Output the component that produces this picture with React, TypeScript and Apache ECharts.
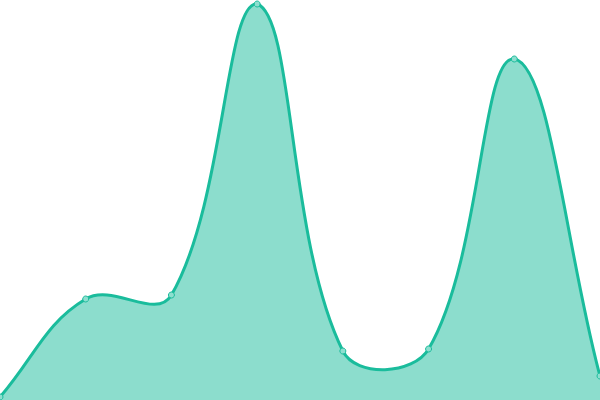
import React, { useEffect, useRef } from 'react';
import * as echarts from 'echarts';

const categories = ['Mon', 'Tue', 'Wed', 'Thu', 'Fri', 'Sat', 'Sun', 'Next'];
const values = [3, 101, 105, 396, 49, 51, 341, 24];

const LINE_COLOR = '#1abc9c';
const AREA_COLOR = 'rgba(26, 188, 156, 0.5)';
const POINT_FILL = '#8ddfcf';
const TENSION = 0.4;

type Pt = { x: number; y: number };

// control points of a cardinal-like spline, weighted by segment lengths
function splineCurve(prev: Pt, cur: Pt, next: Pt, t: number) {
  const d01 = Math.hypot(cur.x - prev.x, cur.y - prev.y);
  const d12 = Math.hypot(next.x - cur.x, next.y - cur.y);
  let s01 = d01 / (d01 + d12);
  let s12 = d12 / (d01 + d12);
  s01 = isNaN(s01) ? 0 : s01;
  s12 = isNaN(s12) ? 0 : s12;
  const fa = t * s01;
  const fb = t * s12;
  return {
    prev: { x: cur.x - fa * (next.x - prev.x), y: cur.y - fa * (next.y - prev.y) },
    next: { x: cur.x + fb * (next.x - prev.x), y: cur.y + fb * (next.y - prev.y) }
  };
}

const clamp = (v: number, lo: number, hi: number) => Math.max(lo, Math.min(hi, v));

const App: React.FC = () => {
  const chartRef = useRef<HTMLDivElement>(null);

  useEffect(() => {
    if (!chartRef.current) return;
    const chart = echarts.init(chartRef.current, undefined, { renderer: 'svg' });

    const renderCurve = (params: any, api: any) => {
      if (params.dataIndex !== 0) return null;
      const cs = params.coordSys;
      const pts: Pt[] = values.map((v, i) => {
        const c = api.coord([i, v]);
        return { x: c[0], y: c[1] };
      });
      const n = pts.length;
      const cps = pts.map((p, i) => {
        const cp = splineCurve(pts[Math.max(i - 1, 0)], p, pts[Math.min(i + 1, n - 1)], TENSION);
        const left = cs.x, right = cs.x + cs.width, top = cs.y, bottom = cs.y + cs.height;
        cp.prev = { x: clamp(cp.prev.x, left, right), y: clamp(cp.prev.y, top, bottom) };
        cp.next = { x: clamp(cp.next.x, left, right), y: clamp(cp.next.y, top, bottom) };
        return cp;
      });
      let d = `M${pts[0].x},${pts[0].y}`;
      for (let i = 1; i < n; i++) {
        const a = cps[i - 1].next;
        const b = cps[i].prev;
        d += ` C${a.x},${a.y} ${b.x},${b.y} ${pts[i].x},${pts[i].y}`;
      }
      const base = cs.y + cs.height;
      const area = `${d} L${pts[n - 1].x},${base} L${pts[0].x},${base} Z`;
      return {
        type: 'group',
        children: [
          { type: 'path', shape: { pathData: area }, style: { fill: AREA_COLOR, stroke: 'none' } },
          {
            type: 'path',
            shape: { pathData: d },
            style: { fill: 'none', stroke: LINE_COLOR, lineWidth: 3 }
          }
        ]
      };
    };

    chart.setOption({
      animation: false,
      grid: { left: 0, right: 0, top: 0, bottom: 0 },
      xAxis: {
        type: 'category',
        boundaryGap: false,
        data: categories,
        show: false
      },
      yAxis: {
        type: 'value',
        min: 0,
        max: 400,
        show: false
      },
      series: [
        {
          type: 'custom',
          data: values.map((v, i) => [i, v]),
          encode: { x: 0, y: 1 },
          renderItem: renderCurve,
          z: 1
        },
        {
          type: 'line',
          data: values,
          symbol: 'circle',
          symbolSize: 6,
          showSymbol: true,
          lineStyle: { opacity: 0 },
          itemStyle: { color: POINT_FILL, borderColor: LINE_COLOR, borderWidth: 1 },
          z: 3
        }
      ]
    });

    return () => {
      chart.dispose();
    };
  }, []);

  return (
    <div
      ref={chartRef}
      style={{ position: 'absolute', left: 0, top: 0, width: '600px', height: '400px' }}
    />
  );
};

export default App;
